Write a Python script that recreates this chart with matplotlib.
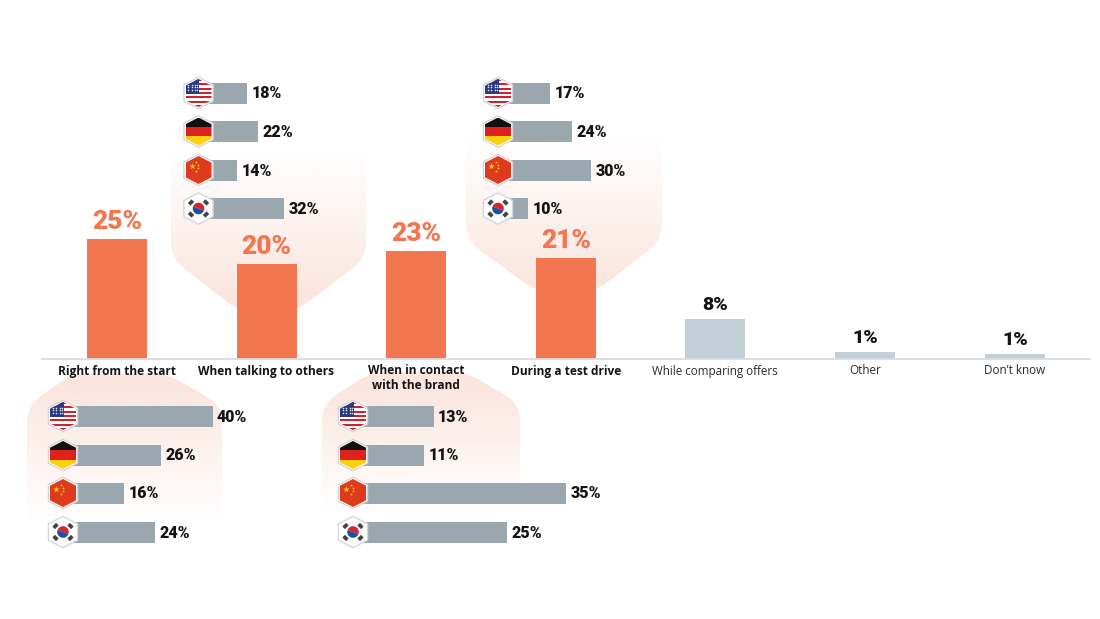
import numpy as np
import matplotlib
matplotlib.use("Agg")
import matplotlib.pyplot as plt
from matplotlib.path import Path
from matplotlib.patches import PathPatch, Polygon, Rectangle, Wedge

categories = ["Right from the start", "When talking to others", "When in contact\nwith the brand",
              "During a test drive", "While comparing offers", "Other", "Don\u2019t know"]
values = [25, 19.8, 22.6, 21, 8.3, 1.4, 1.0]
highlighted = [True, True, True, True, False, False, False]

countries = ["us", "de", "cn", "kr"]
start_values = [40, 26, 16, 24.4]
talking_values = [18, 22, 14, 32]
contact_values = [12.6, 11, 35, 25]
testdrive_values = [17, 24, 30, 10]

ORANGE = "#f27751"
LIGHT = "#c3d0d8"
GREY = "#9aa7ae"
DARK = "#141414"
NUM_FONT = "Roboto"
LABEL_FONT = "Open Sans"

BASE_Y = 359
BAR_SCALE = 4.8
xpos = [117, 266.5, 416, 566, 715, 865, 1015]

fig = plt.figure(figsize=(11, 6.19), dpi=100)
ax = fig.add_axes([0, 0, 1, 1])
ax.set_xlim(0, 1100)
ax.set_ylim(619, 0)
ax.axis("off")


# rounded outline, corners given clockwise
def round_path(pts, r=16):
    verts, codes = [], []
    n = len(pts)
    for i in range(n):
        p = np.array(pts[i], float)
        a = np.array(pts[i - 1], float)
        b = np.array(pts[(i + 1) % n], float)
        p1 = p + (a - p) / np.linalg.norm(a - p) * r
        p2 = p + (b - p) / np.linalg.norm(b - p) * r
        verts += [p1, p, p2]
        codes += [Path.LINETO, Path.CURVE3, Path.CURVE3]
    codes[0] = Path.MOVETO
    verts.append(verts[0])
    codes.append(Path.CLOSEPOLY)
    return Path(verts, codes)


def glow(pts, y_strong, y_fade):
    x0 = min(p[0] for p in pts)
    x1 = max(p[0] for p in pts)
    y0 = min(p[1] for p in pts)
    y1 = max(p[1] for p in pts)
    t = np.linspace(y0, y1, 200)
    a = np.clip((t - y_fade) / (y_strong - y_fade), 0, 1)
    img = np.ones((200, 1, 4))
    img[:, 0, :3] = matplotlib.colors.to_rgb("#f7cfc2")
    img[:, 0, 3] = a * 0.52
    im = ax.imshow(img, extent=(x0, x1, y1, y0), aspect="auto", zorder=1, interpolation="bilinear")
    patch = PathPatch(round_path(pts), transform=ax.transData, fc="none", ec="none")
    ax.add_patch(patch)
    im.set_clip_path(patch)


def draw_flag(code, cx, cy):
    w, h = 13, 14
    hexa = [(cx, cy - h), (cx + w, cy - h * 0.52), (cx + w, cy + h * 0.52),
            (cx, cy + h), (cx - w, cy + h * 0.52), (cx - w, cy - h * 0.52)]
    outer = [(cx + (x - cx) * 1.12, cy + (y - cy) * 1.12) for x, y in hexa]
    ax.add_patch(Polygon(outer, closed=True, fc="white", ec="#d4d6d8", lw=1.0, zorder=5, joinstyle="round"))
    clip = Polygon(hexa, closed=True, fc="white", ec="none", zorder=5.1)
    ax.add_patch(clip)
    parts = []
    if code == "us":
        sh = 2 * h / 13
        for i in range(0, 13):
            col = "#d4202c" if i % 2 == 0 else "white"
            parts.append(Rectangle((cx - w, cy - h + i * sh), 2 * w, sh, fc=col, ec="none"))
        parts.append(Rectangle((cx - w, cy - h), w * 1.05, 7 * sh, fc="#2b3a80", ec="none"))
    elif code == "de":
        cols = ["#111111", "#e0201f", "#fbd00f"]
        for i, col in enumerate(cols):
            parts.append(Rectangle((cx - w, cy - h + i * 2 * h / 3), 2 * w, 2 * h / 3, fc=col, ec="none"))
    elif code == "cn":
        parts.append(Rectangle((cx - w, cy - h), 2 * w, 2 * h, fc="#dd3a1e", ec="none"))
    else:
        parts.append(Wedge((cx, cy), 5.8, 200, 380, fc="#d9252f", ec="none"))
        parts.append(Wedge((cx, cy), 5.8, 20, 200, fc="#1f4f9f", ec="none"))
        marks = [(-7.5, -6), (7.5, -6), (-7.5, 6), (7.5, 6)]
        for dx, dy in marks:
            rot = 45 if dx * dy < 0 else -45
            parts.append(Rectangle((cx + dx - 2.6, cy + dy - 1.9), 5.2, 3.8, fc="#444444", ec="none",
                                   angle=rot, rotation_point="center"))
    for part in parts:
        part.set_zorder(5.2)
        ax.add_patch(part)
        part.set_clip_path(clip)
    if code == "us":
        sx = np.array([-10.5, -7, -3.5, -1.2] * 3) + cx
        sy = np.array([-8.5] * 4 + [-6] * 4 + [-3.2] * 4) + cy
        ax.scatter(sx, sy, s=1.3, c="#dfe3ee", linewidths=0, zorder=5.3)
    if code == "cn":
        ax.scatter([cx - 7], [cy - 4], s=24, marker="*", c="#fbd00f", linewidths=0, zorder=5.3)
        ax.scatter([cx - 2.5, cx - 0.5, cx - 0.5, cx - 2.5], [cy - 8, cy - 5.5, cy - 2, cy + 0.5], s=5, marker="*",
                   c="#fbd00f", linewidths=0, zorder=5.3)


# small country bars; every panel has its own scale
def country_bars(vals, flag_x, start_x, scale, rows):
    for code, v, y in zip(countries, vals, rows):
        ax.barh(y, v * scale, left=start_x, height=21, color=GREY, zorder=3)
        draw_flag(code, flag_x, y)
        ax.text(start_x + v * scale + 4.5, y + 0.5, f"{round(v)}%", ha="left", va="center", fontsize=11.5,
                fontweight="black", family=NUM_FONT, color=DARK, zorder=6)


# background shapes
glow([(72, 374), (168, 374), (222, 406), (222, 530), (27, 530), (27, 406)], 388, 522)
glow([(366, 135), (366, 258), (295, 312), (240, 312), (171, 258), (171, 135)], 292, 152)
glow([(372, 372), (466, 372), (520, 404), (520, 530), (322, 530), (322, 404)], 390, 508)
glow([(662, 120), (662, 240), (595, 292), (537, 292), (466, 240), (466, 120)], 282, 138)

# main bars
for x, v, hi in zip(xpos, values, highlighted):
    top = BASE_Y - v * BAR_SCALE
    ax.bar(x, v * BAR_SCALE, bottom=top, width=60, color=ORANGE if hi else LIGHT, zorder=2)
    if hi:
        ax.text(x, top - 5, f"{round(v)}%", ha="center", va="bottom", fontsize=19, fontweight="black",
                family=NUM_FONT, color=ORANGE, zorder=4)
    else:
        ax.text(x, top - 5, f"{round(v)}%", ha="center", va="bottom", fontsize=14, fontweight="black",
                family=NUM_FONT, color=DARK, zorder=4)

ax.plot([42, 1090], [BASE_Y, BASE_Y], color="#d5dce3", lw=1.3, zorder=3)

for x, name, hi in zip(xpos, categories, highlighted):
    ax.text(x, 364.5, name, ha="center", va="top", fontsize=8.55 if hi else 8.35, linespacing=1.14, family=LABEL_FONT,
            fontweight="bold" if hi else "normal", color=DARK if hi else "#2a2a2a", zorder=4)

rows_low = [416, 455, 493, 532]
rows_up = [93, 131.5, 170, 208.5]
country_bars(start_values, 63, 64.5, 3.7, rows_low)
country_bars(talking_values, 198.5, 200, 2.63, rows_up)
country_bars(contact_values, 353, 359, 5.92, rows_low)
country_bars(testdrive_values, 498, 496.5, 3.15, rows_up)

fig.savefig("out.png", dpi=100)
